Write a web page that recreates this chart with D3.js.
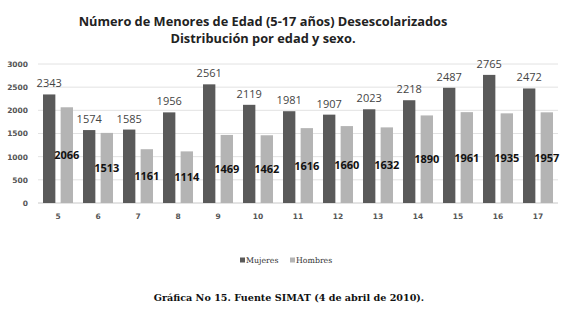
<!DOCTYPE html>
<html>
<head>
<meta charset="utf-8">
<script src="https://cdn.jsdelivr.net/npm/d3@7"></script>
<style>
  body { margin: 0; background: #fff; }
  svg { display: block; }
</style>
</head>
<body>
<div id="chart"></div>
<script>
const edades = ['5', '6', '7', '8', '9', '10', '11', '12', '13', '14', '15', '16', '17'];
const mujeres = [2343, 1574, 1585, 1956, 2561, 2119, 1981, 1907, 2023, 2218, 2487, 2765, 2472];
const hombres = [2066, 1513, 1161, 1114, 1469, 1462, 1616, 1660, 1632, 1890, 1961, 1935, 1957];
const yTicks = [0, 500, 1000, 1500, 2000, 2500, 3000];
const series = ['Mujeres', 'Hombres'];

const width = 572, height = 311;
const colors = { Mujeres: '#5a5a5a', Hombres: '#b4b4b4' };

const svg = d3.select('#chart').append('svg')
  .attr('width', width)
  .attr('height', height);

// Title
svg.append('text')
  .attr('x', 263).attr('y', 26)
  .attr('text-anchor', 'middle')
  .style('font-family', 'Open Sans, sans-serif')
  .style('font-weight', 'bold')
  .style('font-size', '12.8px')
  .attr('fill', '#222')
  .text('Número de Menores de Edad (5-17 años) Desescolarizados');
svg.append('text')
  .attr('x', 263).attr('y', 43)
  .attr('text-anchor', 'middle')
  .style('font-family', 'Open Sans, sans-serif')
  .style('font-weight', 'bold')
  .style('font-size', '12.8px')
  .attr('fill', '#222')
  .text('Distribución por edad y sexo.');

// Scales
const x0 = d3.scaleBand().domain(edades).range([38, 558]).paddingInner(0.25).paddingOuter(0.125);
const x1 = d3.scaleBand().domain(series).range([0, x0.bandwidth()]).paddingInner(0.3);
const y = d3.scaleLinear().domain([0, 3000]).range([203, 64]);

// Gridlines
svg.append('g')
  .selectAll('line')
  .data(yTicks)
  .enter()
  .append('line')
  .attr('x1', 38).attr('x2', 558)
  .attr('y1', (d) => y(d)).attr('y2', (d) => y(d))
  .attr('stroke', (d) => (d === 0 ? '#c8c8c8' : '#e2e2e2'))
  .attr('stroke-width', 1);

// Y axis labels
const yAxis = svg.append('g')
  .attr('transform', 'translate(30,0)')
  .call(d3.axisLeft(y).tickValues(yTicks).tickFormat(d3.format('d')).tickSize(0).tickPadding(2));
yAxis.select('.domain').remove();
yAxis.selectAll('text')
  .style('font-family', 'DejaVu Sans, sans-serif')
  .style('font-size', '7.5px')
  .style('font-weight', 'bold')
  .attr('fill', '#555');

// X axis labels
const xAxis = svg.append('g')
  .attr('transform', 'translate(0,214)')
  .call(d3.axisBottom(x0).tickSize(0).tickPadding(0));
xAxis.select('.domain').remove();
xAxis.selectAll('text')
  .style('font-family', 'DejaVu Sans, sans-serif')
  .style('font-size', '7.5px')
  .style('font-weight', 'bold')
  .attr('fill', '#555');

// Bars
const groups = svg.append('g')
  .selectAll('g')
  .data(edades)
  .enter()
  .append('g')
  .attr('transform', (d) => `translate(${x0(d)},0)`);

groups.append('rect')
  .attr('x', x1('Mujeres'))
  .attr('width', x1.bandwidth())
  .attr('y', (d, i) => y(mujeres[i]))
  .attr('height', (d, i) => y(0) - y(mujeres[i]))
  .attr('fill', colors.Mujeres);

groups.append('rect')
  .attr('x', x1('Hombres'))
  .attr('width', x1.bandwidth())
  .attr('y', (d, i) => y(hombres[i]))
  .attr('height', (d, i) => y(0) - y(hombres[i]))
  .attr('fill', colors.Hombres);

// Value labels
groups.append('text')
  .attr('x', x1('Mujeres') + x1.bandwidth() / 2)
  .attr('y', (d, i) => y(mujeres[i]) - 7)
  .attr('text-anchor', 'middle')
  .style('font-family', 'Open Sans, sans-serif')
  .style('font-size', '11px')
  .attr('fill', '#444')
  .text((d, i) => mujeres[i]);

groups.append('text')
  .attr('x', x1('Hombres') + x1.bandwidth() / 2)
  .attr('y', (d, i) => y(hombres[i] / 2) + 4)
  .attr('text-anchor', 'middle')
  .style('font-family', 'Open Sans, sans-serif')
  .style('font-weight', 'bold')
  .style('font-size', '11px')
  .attr('fill', '#111')
  .text((d, i) => hombres[i]);

// Legend
const legend = svg.append('g').attr('transform', 'translate(240,261)');
const legX = [0, 50];
series.forEach((s, i) => {
  legend.append('rect')
    .attr('x', legX[i]).attr('y', -3.5)
    .attr('width', 5).attr('height', 5)
    .attr('fill', colors[s]);
  legend.append('text')
    .attr('x', legX[i] + 6).attr('y', 2)
    .style('font-family', 'DejaVu Serif, serif')
    .style('font-size', '7.8px')
    .attr('fill', '#333')
    .text(s);
});

// Caption
svg.append('text')
  .attr('x', 289).attr('y', 301)
  .attr('text-anchor', 'middle')
  .style('font-family', 'DejaVu Serif, serif')
  .style('font-weight', 'bold')
  .style('font-size', '9.6px')
  .attr('fill', '#111')
  .text('Gráfica No 15. Fuente SIMAT (4 de abril de 2010).');
</script>
</body>
</html>
